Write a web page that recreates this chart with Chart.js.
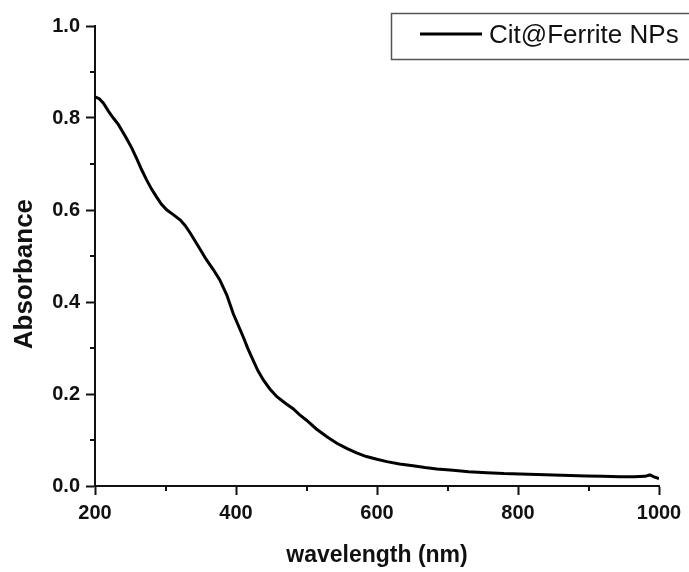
<!DOCTYPE html>
<html>
<head>
<meta charset="utf-8">
<title>Cit@Ferrite NPs</title>
<script src="https://cdn.jsdelivr.net/npm/chart.js@4"></script>
<style>
  html, body { margin: 0; padding: 0; background: #fff; }
  #wrap { width: 689px; height: 572px; }
</style>
</head>
<body>
<div id="wrap"><canvas id="grafica" width="689" height="572"></canvas></div>
<script>
// UV-Vis spectrum of the citrate-coated ferrite nanoparticles
const serieNombre = 'Cit@Ferrite NPs'
const longitudOnda = [200, 206, 212, 219, 226, 233, 240, 245, 252, 259, 266, 273, 280, 287, 294, 302,
  311, 321, 328, 335, 345, 358, 368, 377, 387, 396, 403, 410, 417, 424, 431, 439, 448, 458, 470, 481,
  490, 500, 514, 529, 543, 557, 571, 585, 600, 614, 632, 651, 668, 685, 708, 730, 756, 780, 803, 827,
  850, 874, 897, 920, 945, 965, 980, 987, 993, 1000]
const absorbancia = [0.846, 0.842, 0.832, 0.815, 0.800, 0.786, 0.768, 0.755, 0.735, 0.712, 0.688, 0.666,
  0.646, 0.629, 0.613, 0.600, 0.590, 0.578, 0.566, 0.550, 0.525, 0.492, 0.470, 0.448, 0.415, 0.375,
  0.350, 0.325, 0.298, 0.274, 0.251, 0.230, 0.211, 0.194, 0.180, 0.168, 0.155, 0.143, 0.124, 0.107,
  0.093, 0.082, 0.072, 0.064, 0.058, 0.053, 0.048, 0.044, 0.040, 0.037, 0.034, 0.031, 0.029, 0.027,
  0.026, 0.025, 0.024, 0.023, 0.022, 0.021, 0.020, 0.020, 0.021, 0.024, 0.020, 0.016]

// ejes
const ticksX = [200, 400, 600, 800, 1000]
const menoresX = [300, 500, 700, 900]
const ticksY = [0.0, 0.2, 0.4, 0.6, 0.8, 1.0]
const menoresY = [0.1, 0.3, 0.5, 0.7, 0.9]

const fuente = "'Liberation Sans', Arial, sans-serif"
const tinta = '#111'

const puntos = longitudOnda.map((x, i) => ({ x: x, y: absorbancia[i] }))

// ticks menores hacia afuera, más cortos que los mayores
const ticksMenores = {
  id: 'ticksMenores',
  afterDraw(chart) {
    const ctx = chart.ctx
    const sx = chart.scales.x
    const sy = chart.scales.y
    ctx.save()
    ctx.strokeStyle = tinta
    ctx.lineWidth = 2
    ctx.beginPath()
    menoresX.forEach(v => {
      const px = Math.round(sx.getPixelForValue(v))
      ctx.moveTo(px, sy.bottom)
      ctx.lineTo(px, sy.bottom + 5)
    })
    menoresY.forEach(v => {
      const py = Math.round(sy.getPixelForValue(v))
      ctx.moveTo(sx.left, py)
      ctx.lineTo(sx.left - 5, py)
    })
    ctx.stroke()
    ctx.restore()
  }
}

// leyenda con marco dentro del área
const leyendaMarco = {
  id: 'leyendaMarco',
  afterDraw(chart) {
    const ctx = chart.ctx
    const ds = chart.data.datasets[0]
    ctx.save()
    ctx.strokeStyle = '#555'
    ctx.lineWidth = 1.5
    ctx.strokeRect(391.5, 13.5, 320, 46)
    ctx.strokeStyle = ds.borderColor
    ctx.lineWidth = 3
    ctx.beginPath()
    ctx.moveTo(420, 34)
    ctx.lineTo(482, 34)
    ctx.stroke()
    ctx.fillStyle = tinta
    ctx.font = '26px ' + fuente
    ctx.textBaseline = 'middle'
    ctx.fillText(ds.label, 489, 36)
    ctx.restore()
  }
}

const config = {
  type: 'line',
  data: {
    datasets: [{
      label: serieNombre,
      data: puntos,
      borderColor: '#000',
      borderWidth: 3,
      pointRadius: 0,
      tension: 0,
      fill: false
    }]
  },
  options: {
    responsive: false,
    animation: false,
    layout: { padding: { left: 0, top: 26, right: 30, bottom: 0 } },
    plugins: {
      legend: { display: false },
      tooltip: { enabled: false }
    },
    scales: {
      x: {
        type: 'linear',
        min: 200,
        max: 1000,
        afterFit: s => { s.height = 86 },
        afterBuildTicks: s => { s.ticks = ticksX.map(v => ({ value: v })) },
        border: { color: tinta, width: 2 },
        grid: { drawOnChartArea: false, tickLength: 9, tickWidth: 2, tickColor: tinta },
        ticks: {
          color: tinta,
          padding: 6,
          maxRotation: 0,
          callback: v => String(v),
          font: { family: fuente, size: 20, weight: 'bold' }
        },
        title: {
          display: true,
          text: 'wavelength (nm)',
          color: tinta,
          padding: { top: 0, bottom: 3 },
          font: { family: fuente, size: 23, weight: 'bold' }
        }
      },
      y: {
        type: 'linear',
        min: 0,
        max: 1,
        afterFit: s => { s.width = 95 },
        afterBuildTicks: s => { s.ticks = ticksY.map(v => ({ value: v })) },
        border: { color: tinta, width: 2 },
        grid: { drawOnChartArea: false, tickLength: 9, tickWidth: 2, tickColor: tinta },
        ticks: {
          color: tinta,
          padding: 6,
          callback: v => v.toFixed(1),
          font: { family: fuente, size: 20, weight: 'bold' }
        },
        title: {
          display: true,
          // espacios al final para bajar el título respecto al centro del eje
          text: 'Absorbance     ',
          color: tinta,
          padding: { top: 9, bottom: 0 },
          font: { family: fuente, size: 26, weight: 'bold' }
        }
      }
    }
  },
  plugins: [ticksMenores, leyendaMarco]
}

const grafica = new Chart(document.getElementById('grafica'), config)
</script>
</body>
</html>
